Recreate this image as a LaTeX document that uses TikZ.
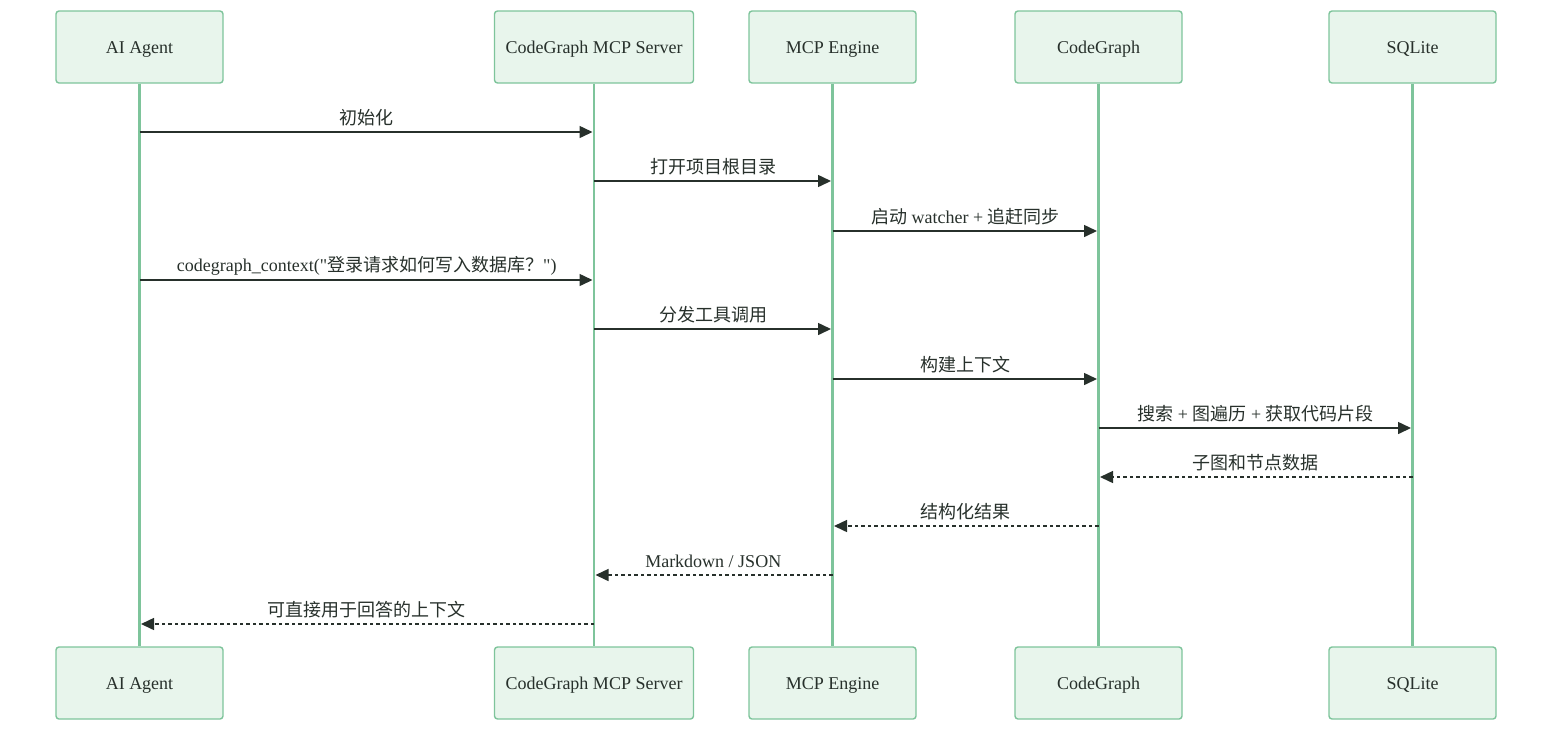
\documentclass[tikz,border=0pt]{standalone}
\usepackage{fontspec}
\setmainfont{Liberation Serif}
\newfontfamily\cjk{Noto Sans CJK SC}
\newcommand{\zh}[1]{{\cjk #1}}
\usetikzlibrary{arrows.meta, positioning}
\definecolor{boxfill}{HTML}{E8F5EC}
\definecolor{boxline}{HTML}{7EC49B}
\definecolor{inkdark}{HTML}{27302B}
\tikzset{
  actor/.style ={draw=boxline, fill=boxfill, line width=1.4pt, rounded corners=3pt,
                 minimum width=167pt, minimum height=72pt, inner xsep=11pt,
                 text height=14pt, text depth=1.5pt,
                 text=inkdark, font=\fontsize{18}{21}\selectfont},
  life/.style  ={draw=boxline, line width=2.2pt},
  msg/.style   ={draw=inkdark, line width=1.5pt, -{Triangle[length=13pt, width=12pt]},
                 shorten >=1.5pt},
  reply/.style ={msg, dash pattern=on 3.5pt off 3pt},
  lbl/.style   ={midway, yshift=14pt, text=inkdark, inner sep=0pt,
                 font=\fontsize{18}{21}\selectfont},
}
\begin{document}
\begin{tikzpicture}[x=1pt, y=-1pt]
  \useasboundingbox (0,0) rectangle (1568,740);

  % participants, top row
  \node[actor] (agent)  at (139.5,47)  {AI Agent};
  \node[actor] (server) at (594,47)    {CodeGraph MCP Server};
  \node[actor] (engine) at (832.5,47)  {MCP Engine};
  \node[actor] (graph)  at (1098.5,47) {CodeGraph};
  \node[actor] (sqlite) at (1412.5,47) {SQLite};
  % participants, bottom row
  \node[actor] (agentB)  at (139.5,683)  {AI Agent};
  \node[actor] (serverB) at (594,683)    {CodeGraph MCP Server};
  \node[actor] (engineB) at (832.5,683)  {MCP Engine};
  \node[actor] (graphB)  at (1098.5,683) {CodeGraph};
  \node[actor] (sqliteB) at (1412.5,683) {SQLite};

  % lifelines
  \foreach \p in {agent, server, engine, graph, sqlite}
    \draw[life] (\p.south) -- (\p B.north);

  % message rows
  \foreach \i/\y in {1/132, 2/181, 3/231, 4/280, 5/329, 6/379,
                     7/428, 8/477, 9/526, 10/575, 11/624}
    \coordinate (m\i) at (0,\y);

  \draw[msg]   (agent |- m1)  -- node[lbl]{\zh{初始化}}                 (server |- m1);
  \draw[msg]   (server |- m2) -- node[lbl]{\zh{打开项目根目录}}         (engine |- m2);
  \draw[msg]   (engine |- m3) -- node[lbl]{\zh{启动} watcher + \zh{追赶同步}} (graph |- m3);
  \draw[msg]   (agent |- m4)  -- node[lbl]{codegraph\_context(\textquotedbl\zh{登录请求如何写入数据库？}\textquotedbl)} (server |- m4);
  \draw[msg]   (server |- m5) -- node[lbl]{\zh{分发工具调用}}           (engine |- m5);
  \draw[msg]   (engine |- m6) -- node[lbl]{\zh{构建上下文}}             (graph |- m6);
  \draw[msg]   (graph |- m7)  -- node[lbl]{\zh{搜索} + \zh{图遍历} + \zh{获取代码片段}} (sqlite |- m7);
  \draw[reply] (sqlite |- m8) -- node[lbl]{\zh{子图和节点数据}}         (graph |- m8);
  \draw[reply] (graph |- m9)  -- node[lbl]{\zh{结构化结果}}             (engine |- m9);
  \draw[reply] (engine |- m10) -- node[lbl]{Markdown / JSON}            (server |- m10);
  \draw[reply] (server |- m11) -- node[lbl]{\zh{可直接用于回答的上下文}} (agent |- m11);
\end{tikzpicture}
\end{document}
